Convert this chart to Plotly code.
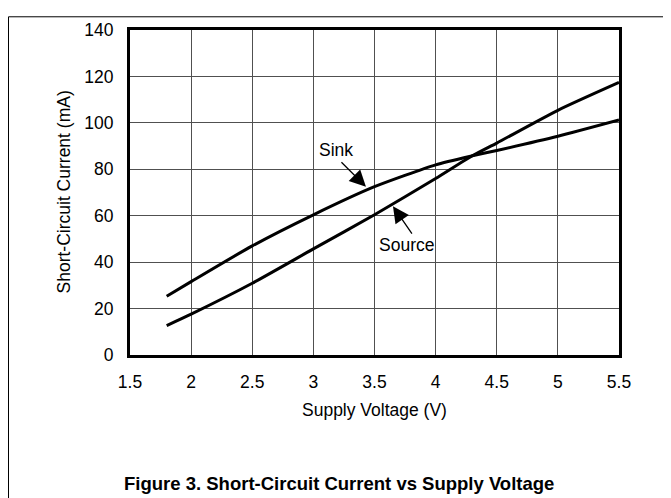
import plotly.graph_objects as go

# Data
voltage = [1.8, 2.0, 2.5, 3.0, 3.5, 4.0, 4.3, 4.5, 5.0, 5.5]
sink_ma = [25.3, 31.6, 47.0, 60.4, 72.5, 81.9, 85.8, 88.1, 94.2, 101.2]
source_ma = [12.7, 17.6, 30.9, 45.7, 60.4, 76.0, 85.8, 91.3, 105.4, 117.4]

x_ticks = [1.5, 2, 2.5, 3, 3.5, 4, 4.5, 5, 5.5]
x_tick_labels = ["1.5", "2", "2.5", "3", "3.5", "4", "4.5", "5", "5.5"]
y_ticks = [0, 20, 40, 60, 80, 100, 120, 140]
y_tick_labels = ["0", "20", "40", "60", "80", "100", "120", "140"]

FONT = "Liberation Sans, Arial, sans-serif"

# page body adds an 8px margin; compensate
OFF = 8
W, H = 671 - OFF, 498 - OFF
L, R, T = 130 - OFF, 671 - 619, 23 - OFF
B = H - (355 - OFF)
pw, ph = W - L - R, H - T - B

def px_x(p):
    return (p - OFF - L) / pw

def px_y(p):
    return (H - B - (p - OFF)) / ph

fig = go.Figure()
for name, vals in [("Sink", sink_ma), ("Source", source_ma)]:
    fig.add_trace(go.Scatter(x=voltage, y=vals, mode="lines", name=name,
                             line=dict(color="black", width=3, shape="spline", smoothing=0.6),
                             hoverinfo="skip"))

fig.update_layout(
    width=W, height=H,
    margin=dict(l=L, r=R, t=T, b=B),
    paper_bgcolor="white", plot_bgcolor="white",
    showlegend=False,
    font=dict(family=FONT, size=17, color="black"),
    xaxis=dict(range=[1.5, 5.5], tickvals=x_ticks, ticktext=x_tick_labels,
               showgrid=True, gridcolor="#505050", gridwidth=1,
               showline=True, linecolor="black", linewidth=3, mirror=True,
               ticks="", ticklabelstandoff=9, zeroline=False,
               tickfont=dict(size=17.5)),
    yaxis=dict(range=[0, 140], tickvals=y_ticks, ticktext=y_tick_labels,
               showgrid=True, gridcolor="#505050", gridwidth=1,
               showline=True, linecolor="black", linewidth=3, mirror=True,
               ticks="", ticklabelstandoff=10, zeroline=False,
               tickfont=dict(size=17.5)),
)

# outer frame lines (top and left)
fig.add_shape(type="line", xref="paper", yref="paper",
              x0=px_x(8.5), y0=px_y(9.5), x1=px_x(680), y1=px_y(9.5),
              line=dict(color="black", width=1))
fig.add_shape(type="line", xref="paper", yref="paper",
              x0=px_x(8.5), y0=px_y(9.5), x1=px_x(8.5), y1=px_y(510),
              line=dict(color="black", width=1))

# axis titles
fig.add_annotation(text="Supply Voltage (V)", xref="paper", yref="paper",
                   x=0.5, y=px_y(411), showarrow=False,
                   xanchor="center", yanchor="middle", font=dict(size=17.5))
fig.add_annotation(text="Short-Circuit Current (mA)", xref="paper", yref="paper",
                   x=px_x(63), y=0.5, showarrow=False, textangle=-90,
                   xanchor="center", yanchor="middle", font=dict(size=17.5))

# caption
fig.add_annotation(text="<b>Figure 3. Short-Circuit Current vs Supply Voltage</b>",
                   xref="paper", yref="paper", x=px_x(339), y=px_y(486),
                   showarrow=False, xanchor="center", yanchor="middle",
                   font=dict(size=18.5))

# curve labels
fig.add_annotation(text="Sink", x=3.185, y=88.1, showarrow=False,
                   xanchor="center", yanchor="middle", font=dict(size=17.5))
fig.add_annotation(text="Source", x=3.758, y=47.2, showarrow=False,
                   xanchor="center", yanchor="middle", font=dict(size=17.5))

# arrows
fig.add_annotation(text="", x=3.430, y=72.5, ax=-26, ay=-26, showarrow=True,
                   arrowhead=2, arrowsize=2.5, arrowwidth=1.3, arrowcolor="black")
fig.add_annotation(text="", x=3.651, y=64.1, ax=20, ay=29, showarrow=True,
                   arrowhead=2, arrowsize=2.5, arrowwidth=1.3, arrowcolor="black")

fig.write_html("out.html")
